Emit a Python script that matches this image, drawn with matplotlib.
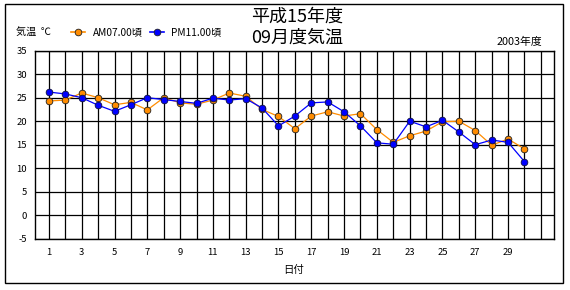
import matplotlib
matplotlib.use("Agg")
import matplotlib.pyplot as plt
from matplotlib.patches import Rectangle
from matplotlib.lines import Line2D

plt.rcParams['font.family'] = ['Noto Sans CJK JP', 'DejaVu Sans']

days = list(range(1, 31))
am07 = [24.3, 24.5, 26.0, 25.0, 23.5, 24.0, 22.4, 25.0, 23.9, 23.6,
        24.5, 26.0, 25.3, 22.5, 21.0, 18.4, 21.1, 22.0, 21.1, 21.6,
        18.2, 15.5, 16.9, 17.9, 19.9, 20.0, 18.0, 14.9, 16.2, 14.1]
pm11 = [26.2, 25.8, 25.0, 23.4, 22.1, 23.5, 25.0, 24.6, 24.2, 23.8,
        24.9, 24.5, 24.8, 22.8, 19.0, 21.1, 23.9, 24.1, 22.0, 19.0,
        15.4, 15.1, 20.0, 18.8, 20.2, 17.7, 15.0, 16.0, 15.5, 11.4]
x_ticks = list(range(1, 32))
x_labels = [str(d) if (d % 2 == 1 and d <= 29) else '' for d in x_ticks]
y_ticks = list(range(-5, 40, 5))

series_names = ['AM07.00頃', 'PM11.00頃']
colors = ['#FF8C00', '#0000FF']

W, H = 570, 290
fig = plt.figure(figsize=(W / 100, H / 100), dpi=100)

def fx(x):
    return x / W

def fy(y):
    return 1 - y / H

left, right, top, bottom = 35.3, 554.0, 50.7, 238.7
ax = fig.add_axes([fx(left), fy(bottom), (right - left) / W, (bottom - top) / H])

MS = 4.8
ax.plot(days, am07, color=colors[0], lw=0.9, marker='o', ms=MS,
        mfc=colors[0], mec='#202020', mew=0.6, zorder=3)
ax.plot(days, pm11, color=colors[1], lw=0.9, marker='o', ms=MS,
        mfc=colors[1], mec='#101040', mew=0.6, zorder=4)

ax.set_xlim(0.17, 31.8)
ax.set_ylim(-5, 35)
ax.set_xticks(x_ticks)
ax.set_xticklabels(x_labels)
ax.set_yticks(y_ticks)
ax.set_yticklabels([str(v) for v in y_ticks])
ax.tick_params(axis='both', length=0, labelsize=6.8, colors='black')
ax.tick_params(axis='x', pad=7)
ax.tick_params(axis='y', pad=6)
ax.grid(True, color='black', lw=0.9)
ax.set_axisbelow(True)
for s in ax.spines.values():
    s.set_color('black')
    s.set_linewidth(1.0)

# outer frame
fig.patches.append(Rectangle((fx(5), fy(283)), (563 - 5) / W, (283 - 4) / H,
                             transform=fig.transFigure, fill=False,
                             edgecolor='black', lw=1.0))

# titles
fig.text(fx(297), fy(17), '平成15年度', ha='center', va='center', fontsize=13)
fig.text(fx(297), fy(38), '09月度気温', ha='center', va='center', fontsize=13)
fig.text(fx(542), fy(42), '2003年度', ha='right', va='center', fontsize=7.8)
fig.text(fx(16), fy(32), '気温  ℃', ha='left', va='center', fontsize=7.3)
fig.text(fx(294), fy(270), '日付', ha='center', va='center', fontsize=7.5)

# legend
leg_x = [(71, 85, 93), (150, 164, 171)]
for (x0, x1, tx), name, c in zip(leg_x, series_names, colors):
    fig.add_artist(Line2D([fx(x0), fx(x1)], [fy(32), fy(32)], transform=fig.transFigure,
                          color=c, lw=1.2, zorder=5))
    fig.add_artist(Line2D([fx((x0 + x1) / 2)], [fy(32)], transform=fig.transFigure,
                          color=c, marker='o', ms=MS, mfc=c, mec='#202020', mew=0.6,
                          linestyle='none', zorder=6))
    fig.text(fx(tx), fy(32), name, ha='left', va='center', fontsize=7.3)

fig.savefig('out.png', dpi=100)
